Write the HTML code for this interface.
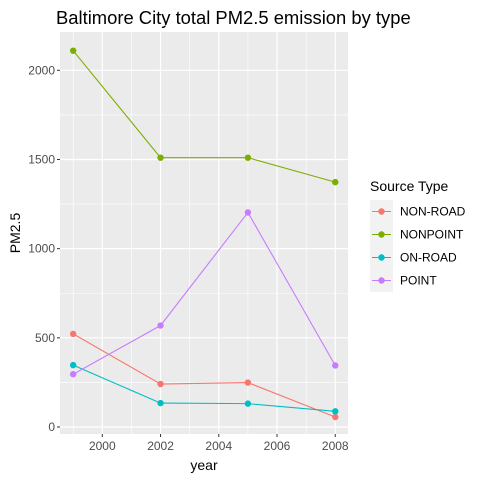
<!DOCTYPE html>
<html><head><meta charset="utf-8"><style>
body{margin:0;background:#fff;font-family:"Liberation Sans",Arial,sans-serif}
</style></head><body>
<svg id="c" width="480" height="480" xmlns="http://www.w3.org/2000/svg">
<rect width="480" height="480" fill="#fff"/>
<text x="56" y="24" font-size="18.4" fill="#000">Baltimore City total PM2.5 emission by type</text>
<rect x="60" y="32" width="288" height="402" fill="#ebebeb"/>
<g id="grid"></g>
<g id="series"></g>
<g id="axes"></g>
<text x="204" y="470" font-size="14" text-anchor="middle">year</text>
<text transform="translate(20,233) rotate(-90)" font-size="14" text-anchor="middle">PM2.5</text>
<g id="legend">
<text x="370" y="191" font-size="14">Source Type</text>
</g>
</svg>
<script>
const years=[1999,2002,2005,2008];
const seriesNames=["NON-ROAD","NONPOINT","ON-ROAD","POINT"];
const colors=["#f8766d","#7cae00","#00bfc4","#c77cff"];
const nonRoad=[522,241,249,56];
const nonPoint=[2110,1510,1510,1373];
const onRoad=[347,134,131,88];
const pointVals=[296,569,1203,345];
const xTicks=[2000,2002,2004,2006,2008];
const yTicks=[0,500,1000,1500,2000];
const allSeries=[nonRoad,nonPoint,onRoad,pointVals];
const NS="http://www.w3.org/2000/svg";
function xs(v){return 102.3+(v-2000)*29.12;}
function ys(v){return 427-v*0.17835;}
function mk(t,a,p){const e=document.createElementNS(NS,t);for(const k in a)e.setAttribute(k,a[k]);p.appendChild(e);return e;}
const grid=document.getElementById('grid'),axes=document.getElementById('axes'),ser=document.getElementById('series'),leg=document.getElementById('legend');
for(let i=0;i<xTicks.length;i++){
 const x=xs(xTicks[i]);
 if(i<xTicks.length-1){const xm=xs(xTicks[i]+1);const l=mk('line',{x1:xm,x2:xm,y1:32,y2:434,stroke:'#fff','stroke-width':0.6},grid);
 }
 if(i===0){const xm=xs(1999);const l=mk('line',{x1:xm,x2:xm,y1:32,y2:434,stroke:'#fff','stroke-width':0.6},grid);
 }
 const g=mk('line',{x1:x,x2:x,y1:32,y2:434,stroke:'#fff','stroke-width':1.2},grid);
 
 const tk=mk('line',{x1:x,x2:x,y1:434,y2:437,stroke:'#333','stroke-width':1},axes);
 
 const t=mk('text',{x:x,y:450,'font-size':12,'text-anchor':'middle',fill:'#4d4d4d'},axes);t.textContent=xTicks[i];
 
}
for(let i=0;i<yTicks.length;i++){
 const y=ys(yTicks[i]);
 const ym=ys(yTicks[i]+250);
 const m=mk('line',{x1:60,x2:348,y1:ym,y2:ym,stroke:'#fff','stroke-width':0.6},grid);
 
 const g=mk('line',{x1:60,x2:348,y1:y,y2:y,stroke:'#fff','stroke-width':1.2},grid);
 
 const tk=mk('line',{x1:57,x2:60,y1:y,y2:y,stroke:'#333','stroke-width':1},axes);
 
 const t=mk('text',{x:55,y:y+4,'font-size':12,'text-anchor':'end',fill:'#4d4d4d'},axes);t.textContent=yTicks[i];
 
}
allSeries.forEach((vals,s)=>{
 const pts=vals.map((v,i)=>xs(years[i])+','+ys(v)).join(' ');
 const pl=mk('polyline',{points:pts,fill:'none',stroke:colors[s],'stroke-width':1.1},ser);
 
 
 vals.forEach((v,i)=>{
  const c=mk('circle',{cx:xs(years[i]),cy:ys(v),r:3.2,fill:colors[s]},ser);
  
  
 });
 const cy=211.5+s*23;
 const bx=mk('rect',{x:370,y:cy-11.5,width:23,height:23,fill:'#f2f2f2'},leg);
 
 const ll=mk('line',{x1:372,x2:391,y1:cy,y2:cy,stroke:colors[s],'stroke-width':1.1},leg);
 
 const lc=mk('circle',{cx:381.5,cy:cy,r:3.2,fill:colors[s]},leg);
 
 const lt=mk('text',{x:400,y:cy+4,'font-size':12,fill:'#000'},leg);lt.textContent=seriesNames[s];
 
});
</script>
</body></html>
